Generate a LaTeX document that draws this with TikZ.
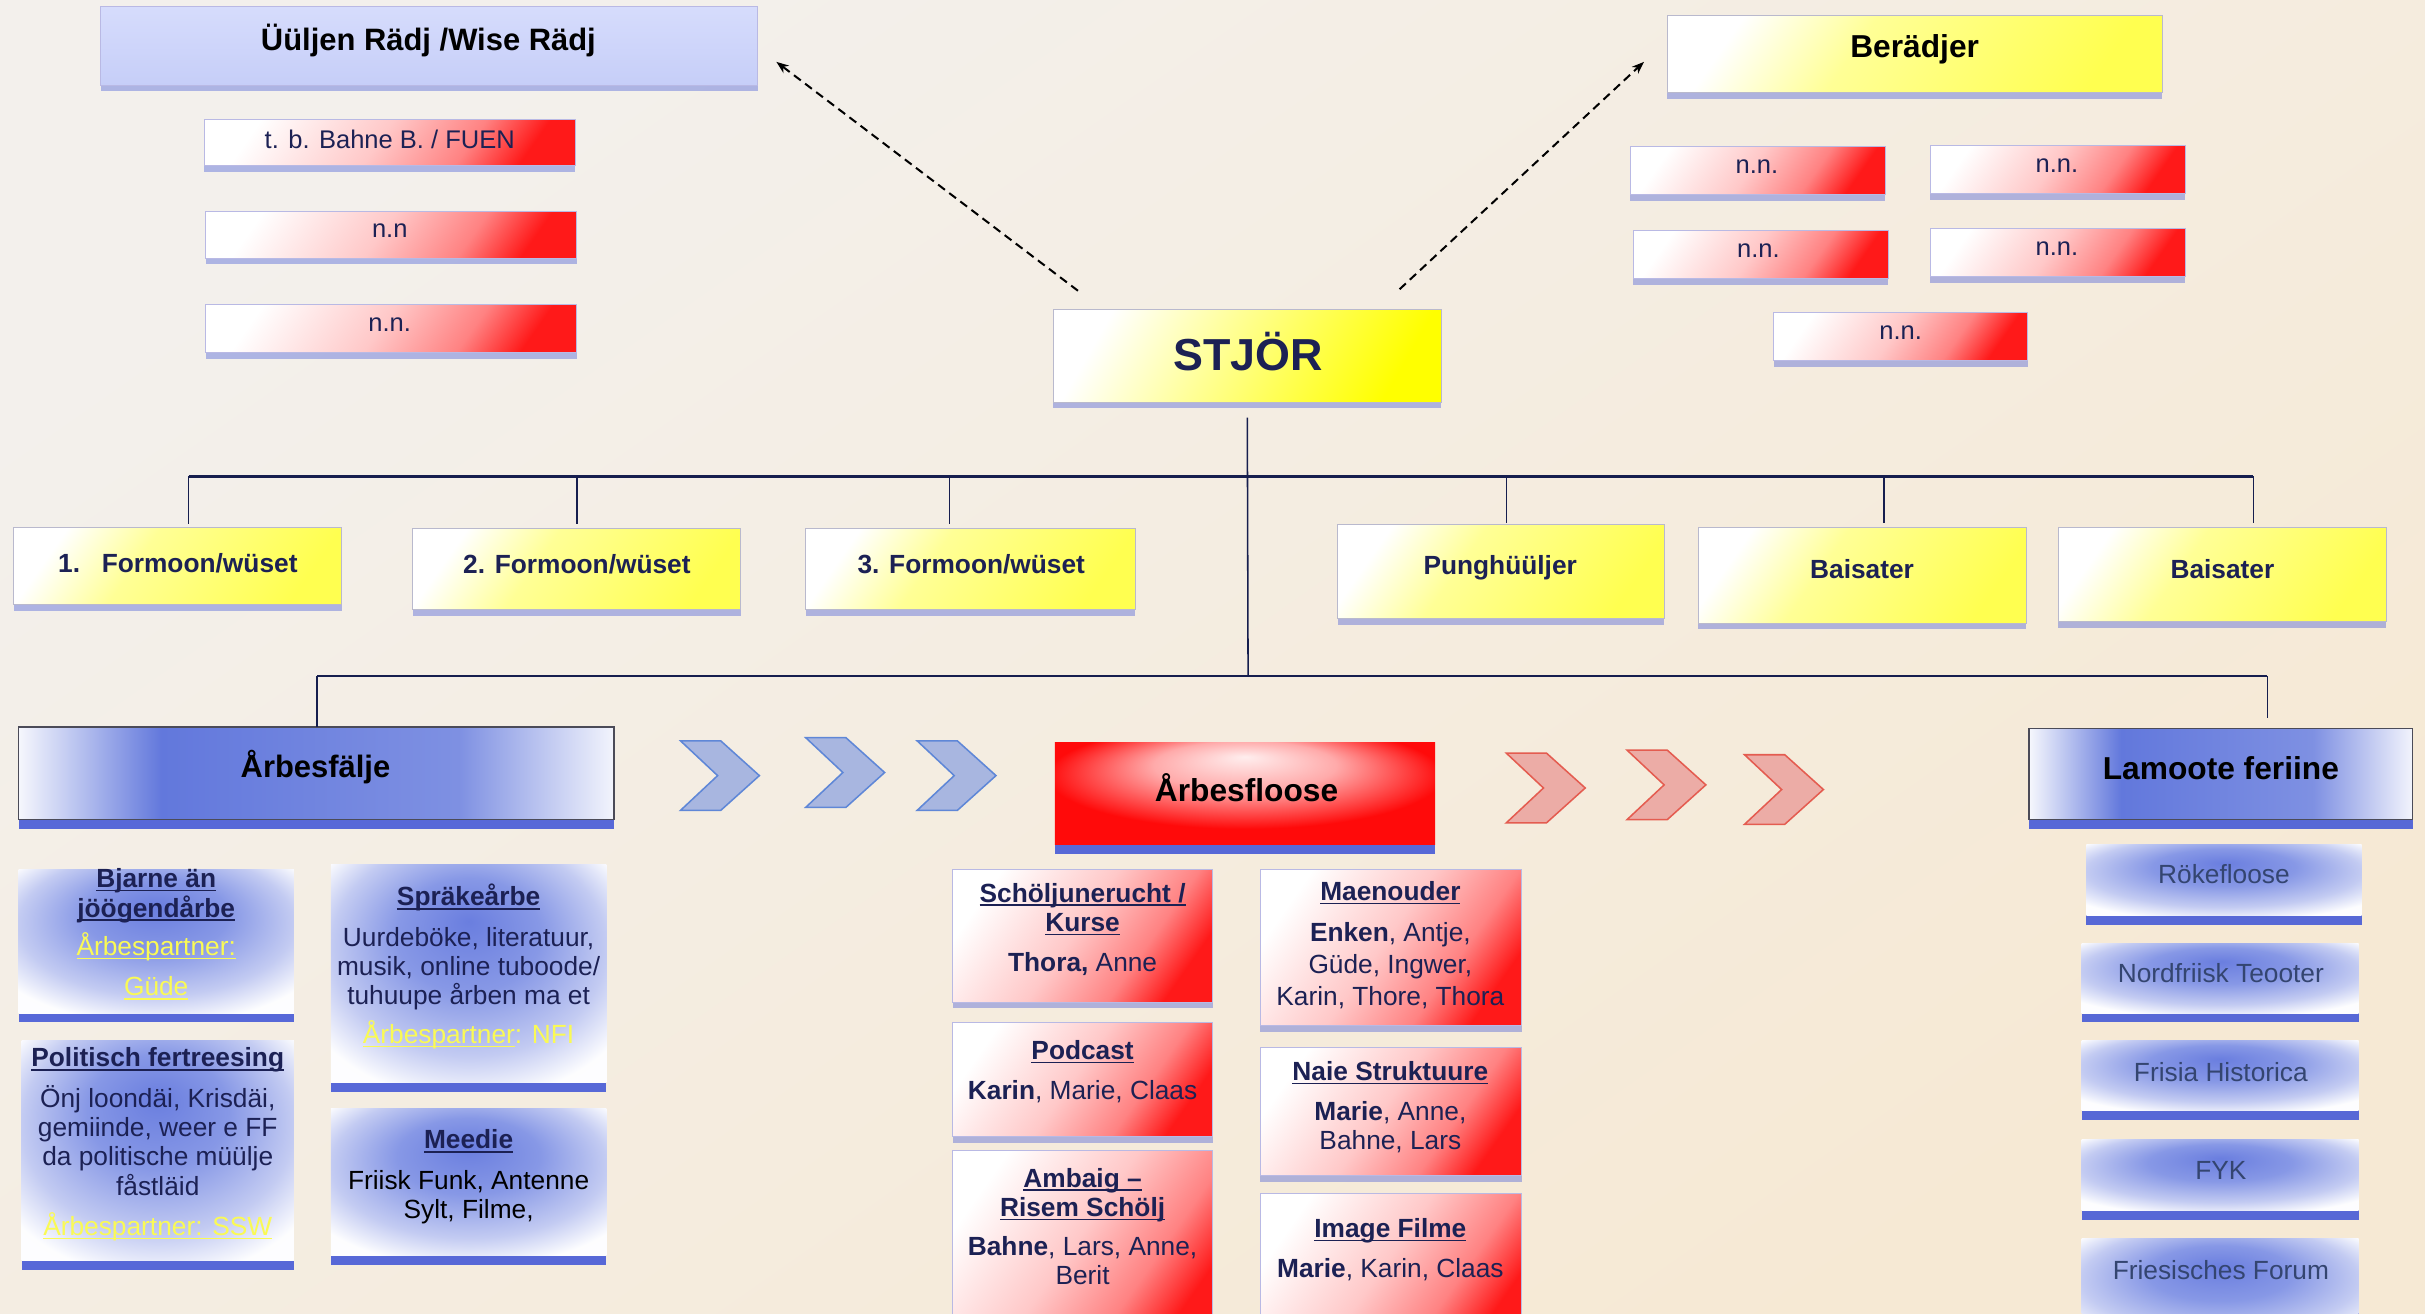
\documentclass[tikz,border=0pt]{standalone}
\usepackage{fontspec}
\setmainfont{Liberation Sans}
\usetikzlibrary{shadows,arrows.meta}
\newcommand\myul[1]{\leavevmode\setbox0\hbox{#1}\rlap{\rule[-2.4pt]{\wd0}{1pt}}\box0}

\definecolor{navy}{RGB}{28,33,84}
\definecolor{lineC}{RGB}{22,30,78}
\definecolor{ylw}{RGB}{255,255,80}
\definecolor{ylwM}{RGB}{255,255,150}
\definecolor{ylwS}{RGB}{255,255,0}
\definecolor{ptxt}{RGB}{250,250,85}
\definecolor{slate}{RGB}{52,69,112}
\definecolor{bgA}{RGB}{243,240,236}
\definecolor{bgB}{RGB}{246,233,212}
\definecolor{blu}{RGB}{98,120,220}
\definecolor{bluL}{RGB}{106,126,223}
\definecolor{bluM}{RGB}{135,152,230}
\definecolor{bluP}{RGB}{195,203,242}
\definecolor{shadB}{RGB}{70,90,215}
\definecolor{lavT}{RGB}{214,220,252}
\definecolor{lavB}{RGB}{198,206,248}
\definecolor{redC}{RGB}{255,25,25}
\definecolor{redG}{RGB}{255,10,10}
\definecolor{pinkA}{RGB}{255,200,200}
\definecolor{pinkB}{RGB}{255,130,130}
\definecolor{pinkL}{RGB}{255,238,238}
\definecolor{pinkN}{RGB}{255,170,170}
\definecolor{edgeG}{RGB}{185,185,205}
\definecolor{edgeL}{RGB}{185,185,228}
\definecolor{edgeD}{RGB}{75,75,88}
\definecolor{chbF}{RGB}{168,182,224}
\definecolor{chbD}{RGB}{95,135,215}
\definecolor{chrF}{RGB}{236,172,166}
\definecolor{chrD}{RGB}{228,92,80}

\pgfdeclarehorizontalshading{bluebar}{100bp}{color(0bp)=(white); color(25bp)=(white!94!blu); color(37bp)=(blu); color(62bp)=(blu!82!white); color(75bp)=(white!92!blu); color(100bp)=(white)}
\pgfdeclarehorizontalshading{redsoft}{100bp}{color(0bp)=(white); color(25bp)=(white); color(48bp)=(pinkA); color(64bp)=(pinkB); color(75bp)=(redC); color(100bp)=(redC)}
\pgfdeclarehorizontalshading{yelsoft}{100bp}{color(0bp)=(white); color(25bp)=(white); color(42bp)=(ylwM); color(75bp)=(ylw); color(100bp)=(ylw)}
\pgfdeclarehorizontalshading{yelstrong}{100bp}{color(0bp)=(white); color(25bp)=(white); color(45bp)=(ylwM); color(75bp)=(ylwS); color(100bp)=(ylwS)}
\pgfdeclareradialshading{bluesoft}{\pgfpoint{0bp}{12bp}}{color(0bp)=(bluL); color(13bp)=(bluM); color(25bp)=(bluP); color(33bp)=(white!96!bluP); color(50bp)=(white)}
\pgfdeclareradialshading{redglow}{\pgfpoint{0bp}{18bp}}{color(0bp)=(pinkL); color(12bp)=(pinkN); color(26bp)=(redG); color(50bp)=(redG)}

\tikzset{
  base/.style={rectangle, inner sep=0pt, outer sep=0pt},
  shy/.style={drop shadow={shadow xshift=0pt, shadow yshift=-4pt, fill=shadB, opacity=0.4}},
  shb/.style={drop shadow={shadow xshift=0pt, shadow yshift=-6pt, fill=shadB, opacity=0.9}},
  yelbox/.style={base, shy, draw=edgeG, line width=0.6pt, shading=yelsoft, shading angle=-35},
  stjbox/.style={base, shy, draw=edgeG, line width=0.6pt, shading=yelstrong, shading angle=-30},
  redbox/.style={base, shy, draw=edgeL, line width=0.6pt, shading=redsoft, shading angle=-35},
  lavbox/.style={base, shy, draw=edgeL, line width=0.6pt, top color=lavT, bottom color=lavB},
  bigblue/.style={base, shb, draw=edgeD, line width=0.8pt, shading=bluebar},
  bigred/.style={base, shb, shading=redglow},
  softblue/.style={base, shb, shading=bluesoft},
  txt/.style={align=center, inner sep=0pt, text=navy, font=\fontsize{17}{19}\selectfont},
  btxt/.style={txt, font=\fontsize{17}{19}\selectfont\bfseries},
  ttl/.style={inner sep=0pt, text=black, font=\fontsize{20.5}{24}\selectfont\bfseries},
  lamtxt/.style={txt, text=slate},
  conn/.style={draw=lineC, line width=1pt},
  bus/.style={draw=lineC, line width=1.6pt},
  dasharrow/.style={draw=black, line width=1.3pt, dash pattern=on 5.5pt off 3.5pt, -{Stealth[length=8pt,width=6pt]}},
  chevb/.style={fill=chbF, draw=chbD, line width=1pt},
  chevr/.style={fill=chrF, draw=chrD, line width=1pt}
}

\newcommand\bx[6]{\node[#2, minimum width={(#5)-(#3)}, minimum height={(#6)-(#4)}] (#1) at ({((#3)+(#5))/2},{((#4)+(#6))/2}) {};}
\newcommand\chev[3]{\draw[#1] (#2,#3) -- ++(26,0) -- ++(25,22.5) -- ++(-25,22.5) -- ++(-26,0) -- ++(24,-22.5) -- cycle;}

\begin{document}
\begin{tikzpicture}[x=1pt,y=-1pt]
\useasboundingbox (0,0) rectangle (1568,849);
\shade[top color=bgA, bottom color=bgB, shading angle=35] (0,0) rectangle (1568,849);

% ---- top left: council
\bx{uul}{lavbox}{65}{4}{490}{55}
\node[ttl, font=\fontsize{20}{24}\selectfont\bfseries] (tuul) at (277,26) {Üüljen Rädj /Wise Rädj};
\bx{tb}{redbox}{132}{77}{372}{107}
\node[txt, font=\fontsize{16.5}{19}\selectfont] (ttb) at (252,90) {t. b. Bahne B. / FUEN};
\bx{nna}{redbox}{133}{137}{373}{167}
\node[txt, font=\fontsize{16.5}{19}\selectfont] (tnna) at (252,149) {n.n};
\bx{nnb}{redbox}{133}{197}{373}{228}
\node[txt, font=\fontsize{16.5}{19}\selectfont] (tnnb) at (252,210) {n.n.};

% ---- top right: advisors
\bx{ber}{yelbox}{1078}{10}{1398}{60}
\node[ttl] (tber) at (1238,32) {Berädjer};
\bx{ra}{redbox}{1054}{95}{1219}{126}
\node[txt, font=\fontsize{16.5}{19}\selectfont] (tra) at (1136,108) {n.n.};
\bx{rb}{redbox}{1248}{94}{1413}{125}
\node[txt, font=\fontsize{16.5}{19}\selectfont] (trb) at (1330,107) {n.n.};
\bx{rc}{redbox}{1056}{149}{1221}{180}
\node[txt, font=\fontsize{16.5}{19}\selectfont] (trc) at (1137,162) {n.n.};
\bx{rd}{redbox}{1248}{148}{1413}{179}
\node[txt, font=\fontsize{16.5}{19}\selectfont] (trd) at (1330,161) {n.n.};
\bx{re}{redbox}{1147}{202}{1311}{233}
\node[txt, font=\fontsize{16.5}{19}\selectfont] (tre) at (1229,215) {n.n.};

% ---- STJÖR
\bx{stjor}{stjbox}{681}{200}{932}{260}
\node[txt, font=\fontsize{29}{32}\selectfont\bfseries] (tstjor) at (807,227) {STJÖR};

% ---- dashed arrows
\draw[dasharrow] ([xshift=16pt,yshift=12pt]stjor.north west) -- ([xshift=12pt,yshift=15pt]uul.south east);
\draw[dasharrow] ([xshift=-27pt,yshift=13pt]stjor.north east) -- ([xshift=-15pt,yshift=20pt]ber.south west);

% ---- second row
\bx{fa}{yelbox}{9}{341}{221}{391}
\node[btxt] (tfa) at (115,364) {1.\hspace{14pt}Formoon/wüset};
\bx{fb}{yelbox}{267}{342}{479}{394}
\node[btxt] (tfb) at (373,365) {2. Formoon/wüset};
\bx{fc}{yelbox}{521}{342}{734}{394}
\node[btxt] (tfc) at (628,365) {3. Formoon/wüset};
\bx{pung}{yelbox}{865}{339}{1076}{400}
\node[btxt] (tpung) at (970,367) {Punghüüljer};
\bx{baia}{yelbox}{1098}{341}{1310}{403}
\node[btxt] (tbaia) at (1204,368) {Baisater};
\bx{baib}{yelbox}{1331}{341}{1543}{402}
\node[btxt] (tbaib) at (1437,368) {Baisater};

% ---- third row
\bx{arbf}{bigblue}{12}{470}{397}{530}
\node[ttl, font=\fontsize{20}{24}\selectfont\bfseries] (tarbf) at (204,496) {Årbesfälje};
\chev{chevb}{440}{479}
\chev{chevb}{521}{477}
\chev{chevb}{593}{479}
\bx{arbfl}{bigred}{682}{480}{928}{546}
\node[ttl] (tarbfl) at (806,509) {Årbesfloose};
\chev{chevr}{974}{487}
\chev{chevr}{1052}{485}
\chev{chevr}{1128}{488}
\bx{lam}{bigblue}{1312}{471}{1560}{530}
\node[ttl] (tlam) at (1436,497) {Lamoote feriine};

% ---- connectors
\coordinate (busL) at (122,308);
\coordinate (busR) at (1457,308);
\coordinate (db) at (373,308);
\coordinate (dc) at (614,308);
\coordinate (dd) at (974,308);
\coordinate (de) at (1218,308);
\coordinate (bus2L) at (205,437);
\coordinate (bus2R) at (1466,437);
\coordinate (hub2) at (807,437);
\draw[bus] (busL) -- (busR);
\draw[bus] (bus2L) -- (bus2R);
\draw[conn] ([yshift=-10pt]stjor.south) -- (hub2);
\draw[conn] (busL) -- ([yshift=2pt]busL |- fa.north);
\draw[conn] (db) -- ([yshift=3pt]db |- fb.north);
\draw[conn] (dc) -- ([yshift=3pt]dc |- fc.north);
\draw[conn] (dd) -- ([yshift=1pt]dd |- pung.north);
\draw[conn] (de) -- ([yshift=3pt]de |- baia.north);
\draw[conn] (busR) -- ([yshift=3pt]busR |- baib.north);
\draw[conn] (bus2L) -- (bus2L |- arbf.north);
\draw[conn] (bus2R) -- ([yshift=7pt]bus2R |- lam.north);

% ---- left column
\bx{bj}{softblue}{12}{562}{190}{655}
\node[txt] (tbj) at (101,604) {\textbf{\myul{Bjarne än}}\\\textbf{\myul{jöögendårbe}}\\[6pt]\textcolor{ptxt}{\myul{Årbespartner:}}\\[7pt]\textcolor{ptxt}{\myul{Güde}}};
\bx{spr}{softblue}{214}{559}{392}{700}
\node[txt] (tspr) at (303,625) {\textbf{\myul{Spräkeårbe}}\\[7pt]Uurdeböke, literatuur,\\musik, online tuboode/\\tuhuupe årben ma et\\[6pt]\textcolor{ptxt}{\myul{Årbespartner}: NFI}};
\bx{pol}{softblue}{14}{673}{190}{815}
\node[txt] (tpol) at (102,740) {\textbf{\myul{Politisch fertreesing}}\\[7pt]Önj loondäi, Krisdäi,\\gemiinde, weer e FF\\da politische müülje\\fåstläid\\[7pt]\textcolor{ptxt}{\myul{Årbespartner: SSW}}};
\bx{med}{softblue}{214}{717}{392}{812}
\node[txt] (tmed) at (303,761) {\textbf{\myul{Meedie}}\\[7pt]\textcolor{black}{Friisk Funk, Antenne}\\\textcolor{black}{Sylt, Filme,}};

% ---- middle column
\bx{sch}{redbox}{616}{562}{784}{648}
\node[txt] (tsch) at (700,601) {\textbf{\myul{Schöljunerucht /}}\\\textbf{\myul{Kurse}}\\[7pt]\textbf{Thora,} Anne};
\bx{pod}{redbox}{616}{661}{784}{735}
\node[txt] (tpod) at (700,693) {\textbf{\myul{Podcast}}\\[7pt]\textbf{Karin}, Marie, Claas};
\bx{amb}{redbox}{616}{744}{784}{870}
\node[txt] (tamb) at (700,793) {\textbf{\myul{Ambaig –}}\\\textbf{\myul{Risem Schölj}}\\[6pt]\textbf{Bahne}, Lars, Anne,\\Berit};
\bx{mae}{redbox}{815}{562}{984}{663}
\node[txt, font=\fontsize{17}{20.5}\selectfont] (tmae) at (899,611) {\textbf{\myul{Maenouder}}\\[6pt]\textbf{Enken}, Antje,\\Güde, Ingwer,\\Karin, Thore, Thora};
\bx{nai}{redbox}{815}{677}{984}{760}
\node[txt] (tnai) at (899,716) {\textbf{\myul{Naie Struktuure}}\\[7pt]\textbf{Marie}, Anne,\\Bahne, Lars};
\bx{img}{redbox}{815}{772}{984}{870}
\node[txt] (timg) at (899,808) {\textbf{\myul{Image Filme}}\\[7pt]\textbf{Marie}, Karin, Claas};

% ---- right column
\bx{rok}{softblue}{1349}{546}{1527}{592}
\node[lamtxt] (trok) at (1438,565) {Rökefloose};
\bx{nft}{softblue}{1346}{610}{1525}{655}
\node[lamtxt] (tnft) at (1436,629) {Nordfriisk Teooter};
\bx{fh}{softblue}{1346}{673}{1525}{718}
\node[lamtxt] (tfh) at (1436,693) {Frisia Historica};
\bx{fyk}{softblue}{1346}{737}{1525}{783}
\node[lamtxt] (tfyk) at (1436,757) {FYK};
\bx{ff}{softblue}{1346}{801}{1525}{870}
\node[lamtxt] (tff) at (1436,821) {Friesisches Forum};
\end{tikzpicture}
\end{document}
